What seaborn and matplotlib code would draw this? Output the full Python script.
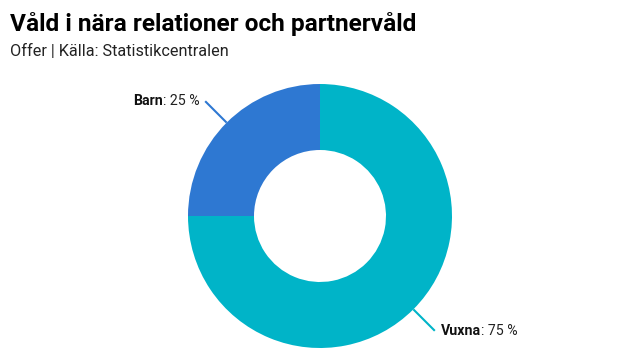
import matplotlib
matplotlib.use("Agg")
import matplotlib.pyplot as plt
import seaborn as sns
import numpy as np

categories = ["Vuxna", "Barn"]
values = [75, 25]
colors = ["#00b4c8", "#2e78d2"]

title = "Våld i nära relationer och partnervåld"
subtitle = "Offer | Källa: Statistikcentralen"

sns.set_theme(style="white")
plt.rcParams['font.family'] = ['Roboto', 'DejaVu Sans']

fig = plt.figure(figsize=(6.4, 3.6), dpi=100)
R = 132.0
cx, cy = 320.0, 216.0
ax = fig.add_axes([0, 0, 1, 1])
ax.set_axis_off()

wedges, _ = ax.pie(values, colors=colors, startangle=90, counterclock=False,
                   radius=1.0, wedgeprops=dict(width=0.5, linewidth=0))
ax.set_aspect('auto')
ax.set_xlim(-cx / R, (640 - cx) / R)
ax.set_ylim(-(360 - cy) / R, cy / R)

fs = 10.2
for w, cat, val, col in zip(wedges, categories, values, colors):
    ang = np.deg2rad((w.theta1 + w.theta2) / 2)
    x0, y0 = np.cos(ang), np.sin(ang)
    x1, y1 = 1.23 * x0, 1.23 * y0
    ax.plot([x0, x1], [y0, y1], color=col, lw=1.5, solid_capstyle='butt')
    dx = 0.045 if x0 > 0 else -0.045
    fig.canvas.draw()
    if x0 > 0:
        tb = ax.text(x1 + dx, y1, cat, ha='left', va='center', fontsize=fs,
                     fontweight='bold', color='#111111')
        fig.canvas.draw()
        bb = tb.get_window_extent()
        xd = ax.transData.inverted().transform((bb.x1, 0))[0]
        ax.text(xd, y1, f": {val} %", ha='left', va='center', fontsize=fs, color='#222222')
    else:
        tv = ax.text(x1 + dx, y1, f": {val} %", ha='right', va='center', fontsize=fs, color='#222222')
        fig.canvas.draw()
        bb = tv.get_window_extent()
        xd = ax.transData.inverted().transform((bb.x0, 0))[0]
        ax.text(xd, y1, cat, ha='right', va='center', fontsize=fs,
                fontweight='bold', color='#111111')

fig.text(10 / 640, 1 - 31 / 360, title, fontsize=17.6, fontweight='bold', color='#000000',
         ha='left', va='baseline')
fig.text(10 / 640, 1 - 56 / 360, subtitle, fontsize=11.7, color='#222222',
         ha='left', va='baseline')

fig.savefig("out.png", dpi=100)
